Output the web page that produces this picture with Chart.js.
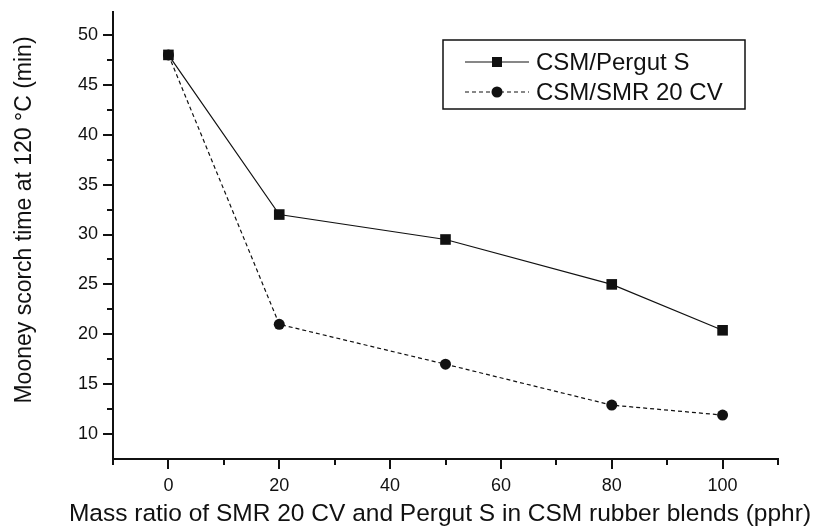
<!DOCTYPE html>
<html>
<head>
<meta charset="utf-8">
<script src="https://cdn.jsdelivr.net/npm/chart.js@4"></script>
<style>
	body { margin: 0; background: #ffffff; }
	#wrap { width: 814px; height: 530px; }
</style>
</head>
<body>
<div id="wrap"><canvas id="myChart" width="814" height="530"></canvas></div>
<script>
// Data
const ratio = [0, 20, 50, 80, 100];
const pergutS = [48, 32, 29.5, 25, 20.4];
const smr20cv = [48, 21, 17, 12.9, 11.9];
const seriesNames = ["CSM/Pergut S", "CSM/SMR 20 CV"];
const yTicks = [10, 12.5, 15, 17.5, 20, 22.5, 25, 27.5, 30, 32.5, 35, 37.5, 40, 42.5, 45, 47.5, 50];
const xTicks = [-10, 0, 10, 20, 30, 40, 50, 60, 70, 80, 90, 100, 110];
const xTitle = "Mass ratio of SMR 20 CV and Pergut S in CSM rubber blends (pphr)";
const yTitle = "Mooney scorch time at 120 \u00B0C (min)";

const FONT = "'Liberation Sans', Arial, sans-serif";
const toPoints = (ys) => ratio.map((x, i) => ({ x: x, y: ys[i] }));

// tick marks (long on labelled ticks, short on minor ones)
const tickMarks = {
	id: "tickMarks",
	afterDraw(chart) {
		const ctx = chart.ctx;
		const xs = chart.scales.x;
		const ys = chart.scales.y;
		ctx.save();
		ctx.strokeStyle = "#111";
		ctx.lineWidth = 2;
		ctx.beginPath();
		yTicks.forEach((v) => {
			const py = Math.round(ys.getPixelForValue(v));
			const len = v % 5 === 0 ? 10 : 6;
			ctx.moveTo(ys.right, py);
			ctx.lineTo(ys.right - len, py);
		});
		xTicks.forEach((v) => {
			const px = Math.round(xs.getPixelForValue(v));
			const len = v % 20 === 0 ? 10 : 6;
			ctx.moveTo(px, xs.top);
			ctx.lineTo(px, xs.top + len);
		});
		ctx.stroke();

		// axis titles
		ctx.fillStyle = "#111";
		ctx.textAlign = "center";
		ctx.textBaseline = "middle";
		ctx.font = "24.5px " + FONT;
		ctx.fillText(xTitle, 440, 514);
		ctx.translate(25, 220);
		ctx.rotate(-Math.PI / 2);
		ctx.font = "23px " + FONT;
		ctx.fillText(yTitle, 0, 0);
		ctx.restore();
	},
};

// boxed legend with line-marker-line samples
const boxLegend = {
	id: "boxLegend",
	afterDraw(chart) {
		const ctx = chart.ctx;
		ctx.save();
		ctx.strokeStyle = "#111";
		ctx.lineWidth = 1.5;
		ctx.strokeRect(443, 40, 302, 69);
		ctx.font = "24px " + FONT;
		ctx.textBaseline = "middle";
		chart.data.datasets.forEach((ds, i) => {
			const y = 62 + i * 30;
			ctx.strokeStyle = "#111";
			ctx.lineWidth = 1.2;
			ctx.setLineDash(ds.borderDash || []);
			ctx.beginPath();
			ctx.moveTo(465, y);
			ctx.lineTo(529, y);
			ctx.stroke();
			ctx.setLineDash([]);
			ctx.fillStyle = "#111";
			if (ds.pointStyle === "rect") {
				ctx.fillRect(492, y - 5, 10, 10);
			} else {
				ctx.beginPath();
				ctx.arc(497, y, 5.5, 0, Math.PI * 2);
				ctx.fill();
			}
			ctx.fillText(ds.label, 536, y + 1);
		});
		ctx.restore();
	},
};

var ctx = document.getElementById("myChart").getContext("2d");
var myChart = new Chart(ctx, {
	type: "scatter",
	data: {
		datasets: [
			{
				label: seriesNames[0],
				data: toPoints(pergutS),
				showLine: true,
				borderColor: "#111",
				backgroundColor: "#111",
				borderWidth: 1.2,
				pointStyle: "rect",
				pointRadius: 7.5,
				pointBorderWidth: 0,
			},
			{
				label: seriesNames[1],
				data: toPoints(smr20cv),
				showLine: true,
				borderColor: "#111",
				backgroundColor: "#111",
				borderWidth: 1.2,
				borderDash: [4, 3],
				pointStyle: "circle",
				pointRadius: 5.5,
				pointBorderWidth: 0,
			},
		],
	},
	options: {
		responsive: false,
		animation: false,
		layout: {
			padding: { left: 0, top: 12, right: 36, bottom: 0 },
		},
		plugins: {
			legend: { display: false },
			tooltip: { enabled: false },
		},
		elements: {
			line: { tension: 0 },
		},
		scales: {
			x: {
				type: "linear",
				min: -10,
				max: 110,
				afterFit: (scale) => {
					scale.height = 71;
					scale.paddingLeft = 0;
					scale.paddingRight = 0;
				},
				afterBuildTicks: (scale) => {
					scale.ticks = [0, 20, 40, 60, 80, 100].map((v) => ({ value: v }));
				},
				grid: { display: false, drawTicks: false },
				border: { display: true, color: "#111", width: 2 },
				ticks: {
					color: "#111",
					padding: 16,
					maxRotation: 0,
					font: { family: FONT, size: 18 },
				},
			},
			y: {
				min: 7.5,
				max: 52.3,
				afterFit: (scale) => {
					scale.width = 113;
					scale.paddingTop = 0;
					scale.paddingBottom = 0;
				},
				afterBuildTicks: (scale) => {
					scale.ticks = [10, 15, 20, 25, 30, 35, 40, 45, 50].map((v) => ({ value: v }));
				},
				grid: { display: false, drawTicks: false },
				border: { display: true, color: "#111", width: 2 },
				ticks: {
					color: "#111",
					padding: 15,
					font: { family: FONT, size: 18 },
				},
			},
		},
	},
	plugins: [tickMarks, boxLegend],
});
</script>
</body>
</html>
